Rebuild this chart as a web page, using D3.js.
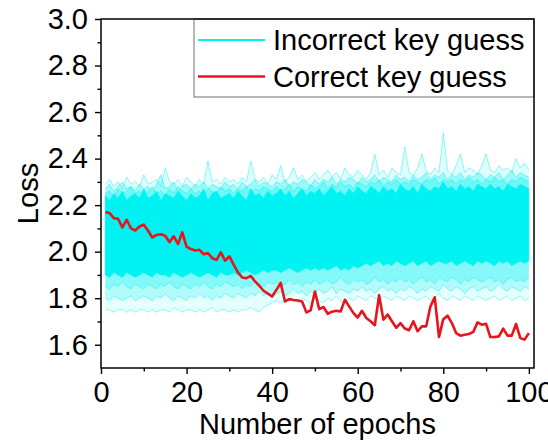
<!DOCTYPE html>
<html><head><meta charset="utf-8">
<script src="https://cdn.jsdelivr.net/npm/d3@7"></script>
<style>
html,body{margin:0;padding:0;background:#fff;}
text{font-family:"Liberation Sans",Arial,sans-serif;}
</style></head>
<body><svg id="chart" width="548" height="441"></svg>
<script>
// ---------- data ----------
const epochs = d3.range(1, 101);
const xTicks = [0, 20, 40, 60, 80, 100];
const xMinorTicks = [10, 30, 50, 70, 90];
const yTicks = [1.6, 1.8, 2.0, 2.2, 2.4, 2.6, 2.8, 3.0];
const yMinorTicks = [1.7, 1.9, 2.1, 2.3, 2.5, 2.7, 2.9];
const legendLabels = ["Incorrect key guess", "Correct key guess"];

// correct key guess loss
const correctKey = [
 2.170,2.166,2.144,2.141,2.104,2.137,2.100,2.091,2.108,2.116,
 2.090,2.061,2.072,2.075,2.068,2.041,2.066,2.033,2.083,2.022,
 2.011,2.005,2.008,1.989,1.994,1.972,1.965,1.997,1.961,1.980,
 1.944,1.911,1.889,1.886,1.896,1.872,1.853,1.832,1.820,1.808,
 1.836,1.866,1.786,1.796,1.792,1.790,1.786,1.739,1.748,1.829,
 1.753,1.762,1.733,1.742,1.746,1.743,1.793,1.765,1.736,1.717,
 1.746,1.715,1.701,1.684,1.813,1.708,1.730,1.701,1.673,1.693,
 1.670,1.662,1.701,1.658,1.679,1.679,1.765,1.804,1.633,1.710,
 1.725,1.693,1.650,1.639,1.643,1.646,1.655,1.696,1.686,1.690,
 1.633,1.633,1.636,1.669,1.639,1.639,1.689,1.629,1.622,1.650];

// incorrect key guesses: dense core band (upper / lower edge)
const incorrectCoreTop = [
 2.24,2.22,2.25,2.23,2.26,2.22,2.24,2.25,2.23,2.27,
 2.23,2.24,2.26,2.22,2.25,2.24,2.23,2.26,2.24,2.22,
 2.25,2.23,2.24,2.27,2.22,2.25,2.26,2.23,2.24,2.25,
 2.23,2.26,2.24,2.22,2.27,2.24,2.25,2.23,2.26,2.24,
 2.25,2.27,2.24,2.26,2.23,2.25,2.27,2.24,2.26,2.25,
 2.27,2.24,2.26,2.28,2.25,2.26,2.24,2.27,2.25,2.28,
 2.26,2.25,2.28,2.27,2.25,2.28,2.26,2.27,2.25,2.29,
 2.27,2.26,2.28,2.25,2.29,2.27,2.26,2.28,2.27,2.30,
 2.27,2.28,2.26,2.29,2.27,2.28,2.26,2.29,2.28,2.27,
 2.29,2.27,2.28,2.26,2.29,2.28,2.27,2.29,2.28,2.27];
const incorrectCoreBottom = [
 1.90,1.89,1.91,1.90,1.89,1.91,1.90,1.89,1.90,1.91,
 1.90,1.89,1.91,1.90,1.90,1.89,1.91,1.90,1.89,1.90,
 1.91,1.90,1.89,1.90,1.91,1.90,1.89,1.91,1.90,1.90,
 1.91,1.90,1.91,1.92,1.91,1.90,1.91,1.92,1.91,1.92,
 1.92,1.91,1.92,1.93,1.92,1.91,1.92,1.93,1.92,1.93,
 1.92,1.93,1.92,1.93,1.94,1.92,1.93,1.92,1.94,1.93,
 1.94,1.95,1.94,1.95,1.96,1.94,1.95,1.94,1.96,1.95,
 1.94,1.95,1.96,1.94,1.95,1.96,1.94,1.95,1.96,1.95,
 1.95,1.96,1.94,1.95,1.96,1.95,1.94,1.96,1.95,1.96,
 1.95,1.94,1.96,1.95,1.96,1.94,1.95,1.96,1.95,1.96];

// incorrect key guesses: individual fringe curves
const incorrectUpper1 = [
 2.29,2.31,2.28,2.30,2.27,2.32,2.29,2.30,2.28,2.33,
 2.29,2.30,2.31,2.28,2.36,2.30,2.29,2.31,2.28,2.32,
 2.30,2.28,2.31,2.29,2.39,2.30,2.31,2.29,2.32,2.30,
 2.31,2.29,2.32,2.30,2.39,2.31,2.30,2.32,2.29,2.33,
 2.31,2.37,2.30,2.32,2.36,2.31,2.33,2.30,2.32,2.34,
 2.31,2.33,2.35,2.32,2.34,2.31,2.36,2.33,2.32,2.35,
 2.33,2.31,2.34,2.42,2.33,2.35,2.32,2.36,2.34,2.33,
 2.45,2.34,2.33,2.36,2.42,2.35,2.33,2.36,2.34,2.51,
 2.35,2.33,2.37,2.42,2.34,2.36,2.35,2.33,2.37,2.42,
 2.35,2.34,2.37,2.35,2.36,2.34,2.40,2.36,2.38,2.35];
const incorrectUpper2 = [
 2.27,2.29,2.26,2.28,2.30,2.27,2.28,2.26,2.29,2.27,
 2.28,2.26,2.29,2.33,2.27,2.28,2.30,2.26,2.28,2.29,
 2.27,2.29,2.28,2.30,2.27,2.29,2.28,2.27,2.30,2.28,
 2.29,2.27,2.30,2.28,2.29,2.31,2.28,2.30,2.29,2.28,
 2.30,2.29,2.31,2.28,2.30,2.29,2.31,2.30,2.28,2.31,
 2.29,2.31,2.30,2.32,2.29,2.31,2.30,2.32,2.31,2.29,
 2.32,2.30,2.31,2.33,2.30,2.32,2.31,2.30,2.33,2.31,
 2.32,2.30,2.33,2.31,2.32,2.34,2.31,2.33,2.32,2.34,
 2.31,2.33,2.32,2.34,2.31,2.33,2.32,2.34,2.33,2.31,
 2.33,2.32,2.34,2.31,2.33,2.35,2.32,2.34,2.33,2.32];
const incorrectUpper3 = [
 2.25,2.26,2.24,2.27,2.25,2.26,2.28,2.25,2.26,2.24,
 2.26,2.28,2.25,2.26,2.24,2.27,2.25,2.28,2.26,2.25,
 2.27,2.25,2.26,2.24,2.27,2.26,2.25,2.28,2.26,2.27,
 2.25,2.27,2.26,2.28,2.25,2.27,2.26,2.28,2.27,2.26,
 2.28,2.26,2.27,2.29,2.26,2.28,2.27,2.26,2.29,2.27,
 2.28,2.30,2.27,2.29,2.28,2.30,2.28,2.29,2.27,2.30,
 2.29,2.28,2.30,2.29,2.31,2.28,2.30,2.29,2.31,2.29,
 2.30,2.29,2.31,2.30,2.29,2.31,2.30,2.32,2.29,2.31,
 2.30,2.31,2.29,2.31,2.30,2.32,2.30,2.31,2.29,2.31,
 2.30,2.32,2.30,2.31,2.29,2.31,2.30,2.32,2.31,2.30];
const incorrectLower1 = [
 1.75,1.75,1.74,1.75,1.75,1.74,1.75,1.74,1.75,1.75,
 1.74,1.75,1.74,1.75,1.75,1.74,1.76,1.75,1.74,1.75,
 1.75,1.74,1.75,1.74,1.75,1.76,1.74,1.75,1.75,1.74,
 1.75,1.74,1.75,1.75,1.76,1.75,1.74,1.76,1.77,1.78,
 1.79,1.78,1.79,1.80,1.79,1.78,1.80,1.79,1.78,1.80,
 1.79,1.78,1.80,1.79,1.81,1.79,1.78,1.80,1.79,1.81,
 1.80,1.79,1.81,1.80,1.79,1.81,1.80,1.79,1.81,1.80,
 1.79,1.81,1.80,1.79,1.80,1.81,1.79,1.80,1.82,1.80,
 1.79,1.81,1.80,1.79,1.81,1.80,1.79,1.81,1.80,1.79,
 1.80,1.81,1.79,1.80,1.81,1.79,1.80,1.81,1.79,1.80];
const incorrectLower2 = [
 1.80,1.79,1.81,1.80,1.79,1.80,1.81,1.79,1.80,1.81,
 1.80,1.79,1.81,1.80,1.82,1.80,1.79,1.81,1.80,1.79,
 1.81,1.80,1.82,1.80,1.81,1.79,1.81,1.80,1.82,1.81,
 1.80,1.82,1.81,1.80,1.82,1.81,1.83,1.81,1.82,1.80,
 1.82,1.83,1.81,1.82,1.84,1.82,1.83,1.81,1.83,1.82,
 1.84,1.82,1.83,1.85,1.82,1.84,1.83,1.82,1.84,1.83,
 1.85,1.83,1.84,1.82,1.84,1.85,1.83,1.84,1.82,1.84,
 1.83,1.85,1.84,1.82,1.84,1.83,1.85,1.84,1.83,1.86,
 1.84,1.83,1.85,1.84,1.82,1.84,1.85,1.83,1.84,1.85,
 1.83,1.84,1.86,1.84,1.83,1.85,1.84,1.83,1.85,1.84];
const incorrectLower3 = [
 1.85,1.84,1.86,1.85,1.87,1.85,1.84,1.86,1.85,1.84,
 1.86,1.85,1.84,1.86,1.85,1.87,1.85,1.84,1.86,1.85,
 1.84,1.86,1.85,1.87,1.85,1.84,1.86,1.85,1.87,1.86,
 1.85,1.86,1.84,1.86,1.85,1.87,1.86,1.85,1.87,1.86,
 1.87,1.85,1.86,1.88,1.86,1.87,1.85,1.87,1.86,1.88,
 1.86,1.87,1.88,1.86,1.87,1.89,1.87,1.86,1.88,1.87,
 1.88,1.86,1.87,1.89,1.87,1.88,1.86,1.88,1.87,1.89,
 1.87,1.88,1.86,1.88,1.89,1.87,1.88,1.86,1.89,1.88,
 1.87,1.89,1.88,1.86,1.88,1.87,1.89,1.88,1.87,1.88,
 1.89,1.87,1.88,1.86,1.88,1.89,1.87,1.88,1.87,1.89];

// ---------- drawing ----------
const cyan = "#00f2f2";
const red = "#e8141a";
const svg = d3.select("#chart");
const L = 101, R = 534, T = 19, B = 368;
const x = d3.scaleLinear().domain([0, 101.2]).range([L, R]);
const y = d3.scaleLinear().domain([1.5, 3.0]).range([B, T]);

svg.append("defs").append("clipPath").attr("id", "clip")
  .append("rect").attr("x", L).attr("y", T).attr("width", R - L).attr("height", B - T);
const plot = svg.append("g").attr("clip-path", "url(#clip)");

const lineOf = arr => d3.line().x((d, i) => x(epochs[i])).y(d => y(d))(arr);
const areaOf = (top, bot) => d3.area().x((d, i) => x(epochs[i]))
  .y0((d, i) => y(bot[i])).y1(d => y(d))(top);

// haze between fringe curves and the core
plot.append("path").attr("d", areaOf(incorrectUpper1, incorrectCoreTop))
  .attr("fill", cyan).attr("opacity", 0.12);
plot.append("path").attr("d", areaOf(incorrectUpper2, incorrectCoreTop))
  .attr("fill", cyan).attr("opacity", 0.3);
plot.append("path").attr("d", areaOf(incorrectUpper3, incorrectCoreTop))
  .attr("fill", cyan).attr("opacity", 0.3);
plot.append("path").attr("d", areaOf(incorrectCoreBottom, incorrectLower1))
  .attr("fill", cyan).attr("opacity", 0.1);
plot.append("path").attr("d", areaOf(incorrectCoreBottom, incorrectLower2))
  .attr("fill", cyan).attr("opacity", 0.22);
plot.append("path").attr("d", areaOf(incorrectCoreBottom, incorrectLower3))
  .attr("fill", cyan).attr("opacity", 0.25);

[incorrectUpper1, incorrectUpper2, incorrectUpper3, incorrectLower1, incorrectLower2, incorrectLower3]
  .forEach(arr => plot.append("path").attr("d", lineOf(arr))
    .attr("fill", "none").attr("stroke", cyan).attr("stroke-width", 0.8).attr("opacity", 0.55));

// dense core
plot.append("path").attr("d", areaOf(incorrectCoreTop, incorrectCoreBottom))
  .attr("fill", cyan).attr("stroke", cyan).attr("stroke-width", 0.8).attr("stroke-linejoin", "round");

// correct key
plot.append("path").attr("d", lineOf(correctKey))
  .attr("fill", "none").attr("stroke", red).attr("stroke-width", 2.6)
  .attr("stroke-linejoin", "round");

// axes
const fs = 29;
const xAxis = svg.append("g").attr("transform", `translate(0,${B})`)
  .call(d3.axisBottom(x).tickValues(xTicks).tickFormat(d3.format("d")).tickSize(6).tickSizeOuter(0).tickPadding(7));
const xMinor = svg.append("g").attr("transform", `translate(0,${B})`)
  .call(d3.axisBottom(x).tickValues(xMinorTicks).tickFormat("").tickSize(3.5).tickSizeOuter(0));
const yAxis = svg.append("g").attr("transform", `translate(${L},0)`)
  .call(d3.axisLeft(y).tickValues(yTicks).tickFormat(d3.format(".1f")).tickSize(6).tickSizeOuter(0).tickPadding(7));
const yMinor = svg.append("g").attr("transform", `translate(${L},0)`)
  .call(d3.axisLeft(y).tickValues(yMinorTicks).tickFormat("").tickSize(3.5).tickSizeOuter(0));
[xAxis, xMinor, yAxis, yMinor].forEach(g => {
  g.select(".domain").remove();
  g.selectAll("line").attr("stroke", "#000").attr("stroke-width", 1.4);
  g.selectAll("text").attr("font-size", fs).attr("fill", "#000")
    .style("font-family", "'Liberation Sans', Arial, sans-serif");
});

// legend box
const lg = svg.append("g");
lg.append("rect").attr("x", 194).attr("y", T).attr("width", R - 194).attr("height", 78)
  .attr("fill", "#fff").attr("stroke", "#888").attr("stroke-width", 1.2);
const legendColors = [cyan, red];
const legendWidths = [2.2, 2.6];
const legendRows = [40, 76.5];
legendLabels.forEach((lab, i) => {
  lg.append("line").attr("x1", 198).attr("x2", 265).attr("y1", legendRows[i]).attr("y2", legendRows[i])
    .attr("stroke", legendColors[i]).attr("stroke-width", legendWidths[i]);
  lg.append("text").attr("x", 273).attr("y", legendRows[i] + 10.2).attr("font-size", fs)
    .attr("fill", "#000").text(lab);
});

// frame
svg.append("rect").attr("x", L).attr("y", T).attr("width", R - L).attr("height", B - T)
  .attr("fill", "none").attr("stroke", "#000").attr("stroke-width", 1.5);

// titles
svg.append("text").attr("x", (L + R) / 2).attr("y", 433.5).attr("text-anchor", "middle")
  .attr("font-size", fs).attr("fill", "#000").text("Number of epochs");
svg.append("text").attr("transform", `translate(38,${(T + B) / 2}) rotate(-90)`)
  .attr("text-anchor", "middle").attr("font-size", fs).attr("fill", "#000").text("Loss");
</script></body></html>
